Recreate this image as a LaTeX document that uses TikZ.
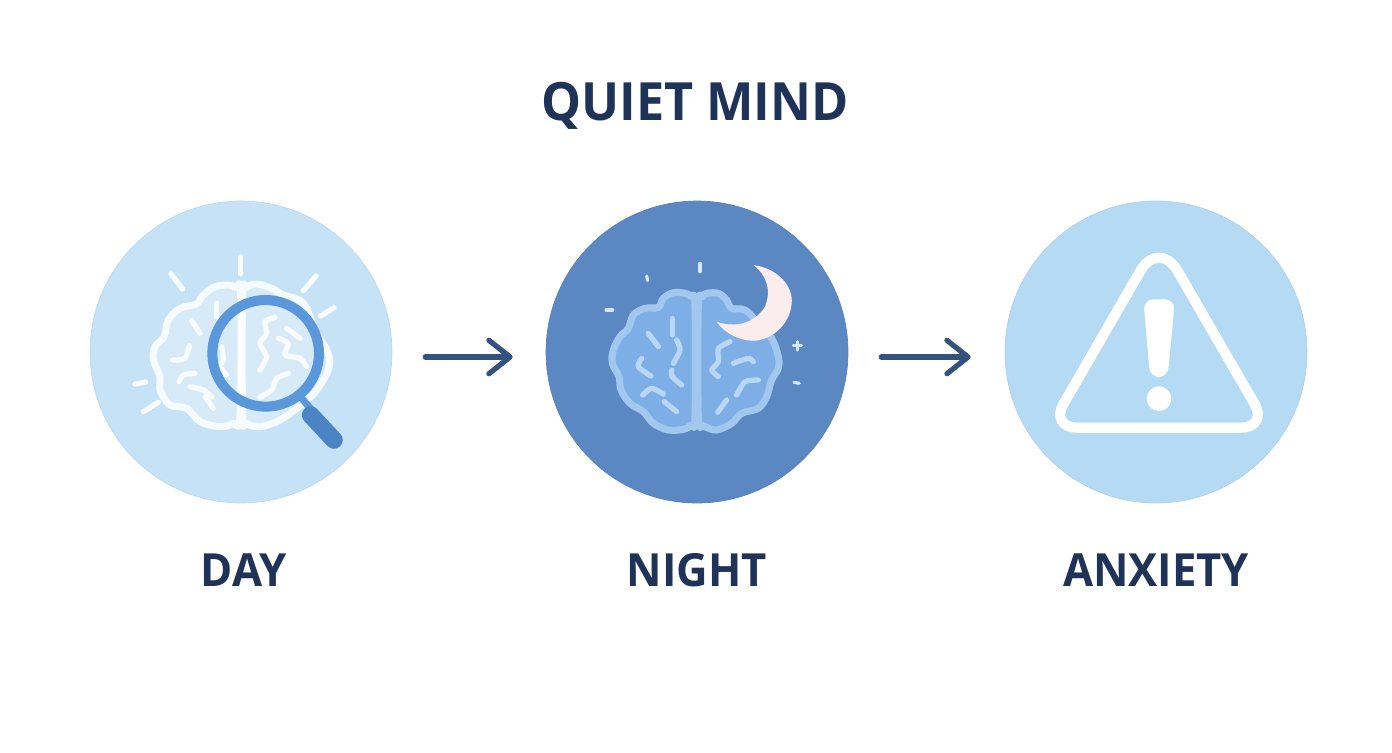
\documentclass[tikz,border=0pt]{standalone}
\usepackage{fontspec}
\setmainfont[FakeStretch=0.955]{Open Sans}
\usetikzlibrary{arrows.meta}
\definecolor{navy}{HTML}{1F3358}
\definecolor{flowblue}{HTML}{34527F}
\definecolor{dayblue}{HTML}{C5E2F6}
\definecolor{nightblue}{HTML}{5B88C2}
\definecolor{warnblue}{HTML}{B5DAF3}
\definecolor{lensblue}{HTML}{5B97DB}
\definecolor{grip}{HTML}{4A84C4}
\definecolor{lobeblue}{HTML}{7EAEE6}
\definecolor{lobeedge}{HTML}{A3C8F0}
\definecolor{foldblue}{HTML}{B9D6F5}
\definecolor{moonpink}{HTML}{FBEDEE}
\begin{document}
\begin{tikzpicture}[x=0.02cm,y=-0.02cm,
	disc/.style={circle,minimum size=6.04cm,inner sep=0pt,line width=.4pt},
	caption/.style={font=\fontsize{26}{30}\selectfont\bfseries,text=navy},
	flow/.style={flowblue,line width=3pt,line cap=round,-{Straight Barb[length=12pt,width=19pt,round]}},
	zoomed/.style={shift={#1},x=0.02cm/3,y=-0.02cm/3},
	lobe/.style={line width=4pt,line join=round},
	fold/.style={line width=3pt,line cap=round,line join=round}]
	\useasboundingbox (0,0) rectangle (1392,752);
	\node[font=\fontsize{30}{34}\selectfont\bfseries,text=navy] (title) at (695,106) {QUIET MIND};
	\node[disc,fill=dayblue,draw=dayblue!96!black] (day) at (241,352) {};
	\node[disc,fill=nightblue,draw=nightblue!96!black] (night) at (697,352) {};
	\node[disc,fill=warnblue,draw=warnblue!96!black] (anxiety) at (1156,352) {};
	\node[caption] (daytext) at (244,570) {DAY};
	\node[caption] (nighttext) at (697,570) {NIGHT};
	\node[caption] (anxietytext) at (1156,570) {ANXIETY};
	\draw[flow] ([shift={(33,5)}]day.east) -- ([shift={(-33,5)}]night.west);
	\draw[flow] ([shift={(33,5)}]night.east) -- ([shift={(-34,5)}]anxiety.west);
	% day brain
	\begin{scope}[zoomed={(90,200)}]
		\draw[lobe,draw=white!85!dayblue,fill=white,fill opacity=.3] plot[smooth cycle,tension=.6] coordinates {(452,285) (437,262) (410,255) (370,262) (335,290) (320,312) (270,325) (235,360) (222,410) (195,440) (190,480) (210,530) (210,570) (240,615) (290,625) (330,665) (390,680) (430,670) (450,645)};
		\draw[lobe,draw=white!85!dayblue,fill=white,fill opacity=.3] plot[smooth cycle,tension=.6] coordinates {(458,285) (470,262) (500,252) (545,265) (580,285) (640,310) (680,400) (715,460) (715,510) (680,570) (640,610) (570,660) (510,680) (470,670) (458,645)};
		\foreach \a/\b/\c/\d in {452/170/452/222,243/222/278/267,678/228/640/272,732/323/692/348,135/552/167/546,160/635/205/607,380/310/380/350}
			\draw[fold,white!90!dayblue] (\a,\b) -- (\c,\d);
		\draw[line width=3.8pt,white] (455,330) -- (455,575);
		\draw[fold,white!90!dayblue] plot[smooth] coordinates {(298,437) (285,475) (248,480)};
		\draw[fold,white!90!dayblue] plot[smooth] coordinates {(267,545) (280,525) (315,520)};
		\draw[fold,white!90!dayblue] plot[smooth] coordinates {(300,560) (340,570) (365,590)};
		\draw[fold,white!90!dayblue] (345,590) -- (370,625);
		\draw[fold,white!90!dayblue] (305,362) -- (330,400);
		\draw[fold,white!90!dayblue] plot[smooth] coordinates {(395,440) (400,480) (390,500) (410,525)};
		\draw[fold,white!90!dayblue] plot[smooth,tension=.4] coordinates {(555,352) (525,365) (530,400) (510,430) (530,470) (510,510)};
		\draw[fold,white!90!dayblue] (590,385) -- (630,415);
		\draw[fold,white!90!dayblue] plot[smooth,tension=.4] coordinates {(565,415) (595,430) (585,465) (630,475) (650,500)};
		\draw[fold,white!90!dayblue] plot[smooth,tension=.4] coordinates {(595,520) (560,535) (545,570) (510,592)};
		% magnifier
		\draw[line width=4pt,lensblue] (635,595) -- (670,635);
		\draw[line width=10pt,line cap=round,grip] (662,645) -- (732,720);
		\draw[line width=5.7pt,lensblue] (527,460) circle (160);
	\end{scope}
	% night brain
	\begin{scope}[zoomed={(545,200)}]
		\draw[lobe,draw=lobeedge,fill=lobeblue] plot[smooth cycle,tension=.6] coordinates {(450,320) (438,290) (420,280) (385,278) (355,295) (340,322) (300,325) (265,345) (250,385) (225,410) (205,450) (202,490) (222,530) (228,570) (255,610) (295,635) (325,670) (370,690) (415,688) (438,675) (450,650)};
		\draw[lobe,draw=lobeedge,fill=lobeblue] plot[smooth cycle,tension=.6] coordinates {(460,320) (472,290) (485,280) (520,280) (545,300) (560,325) (600,330) (640,370) (680,415) (700,470) (700,505) (680,540) (665,590) (640,625) (590,640) (560,670) (515,690) (480,680) (472,675) (460,650)};
		\draw[line width=3.8pt,lobeedge] (455,310) -- (455,660);
		\foreach \a/\b/\c/\d in {382/355/382/405,358/605/395/635,518/637/545/600,310/400/340/440}
			\draw[fold,foldblue] (\a,\b) -- (\c,\d);
		\draw[fold,foldblue] plot[smooth] coordinates {(395,420) (405,450) (385,490)};
		\draw[fold,foldblue] plot[smooth] coordinates {(380,510) (382,530) (410,555)};
		\draw[fold,foldblue] plot[smooth] coordinates {(290,475) (280,500) (318,528)};
		\draw[fold,foldblue] plot[smooth] coordinates {(293,585) (320,565) (355,582)};
		\draw[fold,foldblue] plot[smooth,tension=.4] coordinates {(555,425) (520,445) (520,485) (500,510) (520,530)};
		\draw[fold,foldblue] plot[smooth,tension=.4] coordinates {(565,490) (610,475) (625,485)};
		\draw[fold,foldblue] plot[smooth,tension=.4] coordinates {(575,585) (600,545) (640,540)};
		\foreach \a/\b/\c/\d in {465/190/465/215,305/228/308/242,183/330/203/330,747/547/763/550,757/425/757/450,745/437/770/437}
			\draw[line width=1.8pt,line cap=round,foldblue!60!white] (\a,\b) -- (\c,\d);
		% moon
		\fill[moonpink] (625,195) .. controls (700,205) and (745,260) .. (740,310) .. controls (735,380) and (670,425) .. (620,422) .. controls (575,420) and (535,395) .. (515,365) .. controls (570,385) and (630,370) .. (660,320) .. controls (680,270) and (665,225) .. (625,195) -- cycle;
	\end{scope}
	% warning sign
	\begin{scope}[zoomed={(1000,200)}]
		\draw[white,line width=5.8pt,rounded corners=0.55cm] (477,683) -- (805,683) -- (641,400) [rounded corners=0.75cm] -- (477,116) [rounded corners=0.55cm] -- (313,400) -- (149,683) -- cycle;
		\fill[white,rounded corners=0.2cm] (430,298) -- (525,298) -- (503,532) -- (450,532) -- cycle;
		\fill[white] (477,596) circle (37);
	\end{scope}
\end{tikzpicture}
\end{document}
